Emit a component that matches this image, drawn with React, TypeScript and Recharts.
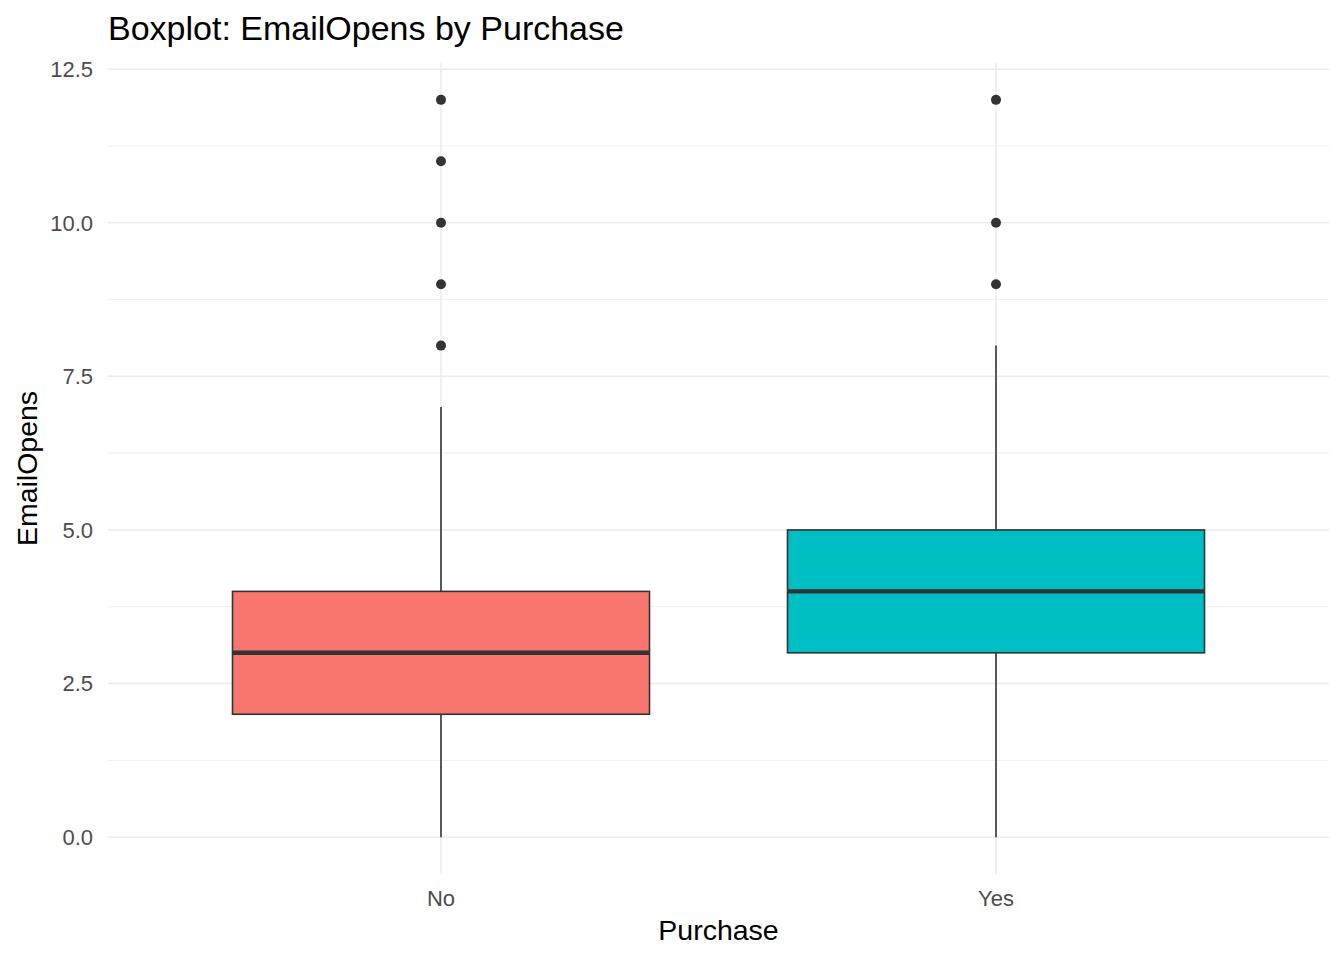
import { Bar, CartesianGrid, ComposedChart, Label, Scatter, XAxis, YAxis } from "recharts";

// box stats per Purchase group
const categories = ["No", "Yes"];
const positions = [1, 2];
const lowerWhisker = [0, 0];
const lowerHinge = [2, 3];
const medians = [3, 4];
const upperHinge = [4, 5];
const upperWhisker = [7, 8];
const outliersNo = [8, 9, 10, 11, 12];
const outliersYes = [9, 10, 12];
const fills = ["#F8766D", "#00BFC4"];

const yTicks = [0, 2.5, 5, 7.5, 10, 12.5];
const yMinorTicks = [1.25, 3.75, 6.25, 8.75, 11.25];

const INK = "#333333";
const FONT = "'Liberation Sans', Arial, sans-serif";

const boxData = categories.map((cat, i) => ({
  cat,
  whisker: [lowerWhisker[i], upperWhisker[i]],
  q1: lowerHinge[i],
  med: medians[i],
  q3: upperHinge[i],
  fill: fills[i],
}));

const outlierData = [
  ...outliersNo.map((v) => ({ pos: positions[0], value: v })),
  ...outliersYes.map((v) => ({ pos: positions[1], value: v })),
];

// the bar spans the whisker range; box, median and whiskers are placed with the same pixel scale
function BoxShape(props: any) {
  const { x, y, width, height, payload } = props;
  if (!payload) return null;
  const [lo, hi] = payload.whisker;
  const top = Math.min(y, y + height);
  const bottom = Math.max(y, y + height);
  const pxPerUnit = (bottom - top) / (hi - lo);
  const toY = (v: number) => bottom - (v - lo) * pxPerUnit;
  const cx = x + width / 2;
  const yQ1 = toY(payload.q1);
  const yQ3 = toY(payload.q3);
  const yMed = toY(payload.med);
  return (
    <g>
      <line x1={cx} x2={cx} y1={toY(hi)} y2={yQ3} stroke={INK} strokeWidth={1.6} />
      <line x1={cx} x2={cx} y1={yQ1} y2={toY(lo)} stroke={INK} strokeWidth={1.6} />
      <rect x={x} y={yQ3} width={width} height={yQ1 - yQ3} fill={payload.fill} stroke={INK} strokeWidth={1.6} />
      <line x1={x} x2={x + width} y1={yMed} y2={yMed} stroke={INK} strokeWidth={4.4} />
    </g>
  );
}

function OutlierDot(props: any) {
  const { cx, cy } = props;
  return <circle cx={cx} cy={cy} r={5} fill={INK} />;
}

function YTitle(props: any) {
  const vb = props.viewBox || { x: 0, y: 63, width: 108, height: 811 };
  const tx = vb.x + 37;
  const ty = vb.y + vb.height / 2;
  return (
    <text x={tx} y={ty} transform={`rotate(-90, ${tx}, ${ty})`} textAnchor="middle" fontSize={28.5} fill="#000000">
      EmailOpens
    </text>
  );
}

export default function App() {
  return (
    <div style={{ position: "absolute", left: 0, top: 0, width: 1344, height: 960, fontFamily: FONT, background: "#ffffff" }}>
      <div style={{ position: "absolute", left: 108, top: 11, fontSize: 34, lineHeight: "34px", color: "#000000", whiteSpace: "nowrap" }}>
        Boxplot: EmailOpens by Purchase
      </div>
      <ComposedChart width={1344} height={960} data={boxData} margin={{ top: 63, right: 15, bottom: 0, left: 0 }}>
        <CartesianGrid vertical={false} horizontalValues={yMinorTicks} syncWithTicks stroke="#ebebeb" strokeWidth={0.8} />
        <CartesianGrid syncWithTicks stroke="#ebebeb" strokeWidth={1.5} />
        <XAxis
          dataKey="cat"
          type="category"
          height={86}
          padding={{ left: 55.5, right: 55.5 }}
          tickLine={false}
          axisLine={false}
          tickSize={0}
          tickMargin={16}
          tick={{ fontSize: 22, fill: "#4d4d4d" }}
        >
          <Label value="Purchase" position="insideBottom" offset={20} fontSize={28.5} fill="#000000" />
        </XAxis>
        <XAxis xAxisId="num" type="number" dataKey="pos" domain={[0.4, 2.6]} allowDataOverflow hide />
        <YAxis
          dataKey="value"
          type="number"
          domain={[-0.6, 12.6]}
          allowDataOverflow
          ticks={yTicks}
          tickFormatter={(v: number) => v.toFixed(1)}
          width={108}
          tickLine={false}
          axisLine={false}
          tickSize={0}
          tickMargin={15}
          tick={{ fontSize: 22, fill: "#4d4d4d" }}
        >
          <Label content={YTitle} />
        </YAxis>
        <Bar dataKey="whisker" barSize={417} isAnimationActive={false} shape={BoxShape} />
        <Scatter xAxisId="num" data={outlierData} dataKey="value" isAnimationActive={false} shape={OutlierDot} />
      </ComposedChart>
    </div>
  );
}
